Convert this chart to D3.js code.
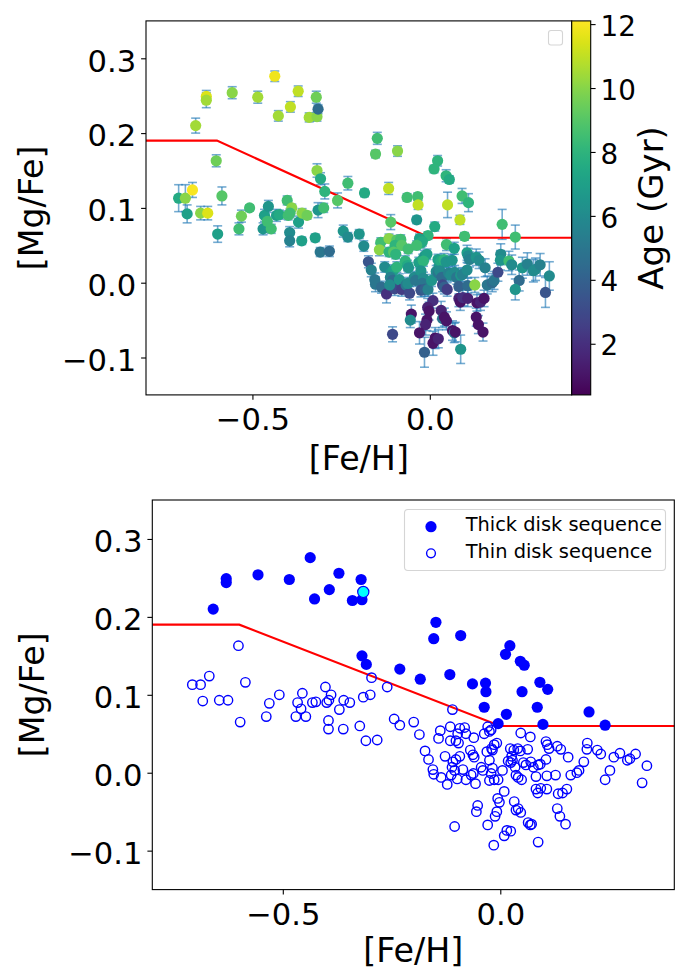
<!DOCTYPE html>
<html>
<head>
<meta charset="utf-8">
<script src="https://cdn.jsdelivr.net/npm/d3@7"></script>
<style>
  body { margin: 0; background: #fff; }
  svg { display: block; }
  text { font-family: "DejaVu Sans", sans-serif; fill: #000; }
</style>
</head>
<body>
<svg id="chart" width="687" height="971"></svg>
<script>
// ---- Star sample: [Fe/H], [Mg/Fe], age (Gyr) and [Mg/Fe] uncertainty ----
const feh = [
  // high-alpha stars
  -0.660,-0.630,-0.630,-0.557,-0.485,-0.437,-0.427,-0.393,-0.371,-0.340,
  -0.320,-0.318,-0.315,-0.318,-0.308,-0.231,-0.184,-0.148,-0.153,-0.091,
  -0.116,-0.064,-0.034,-0.033,0.022,0.012,0.046,0.055,0.050,0.091,
  0.109,-0.037,0.014,-0.005,0.085,0.098,0.204,0.241,
  // metal-poor low-alpha stars
  -0.602,-0.708,-0.689,-0.669,-0.586,-0.684,-0.646,-0.626,-0.598,-0.538,
  -0.531,-0.508,-0.470,-0.447,-0.466,-0.458,-0.455,-0.432,-0.424,-0.402,
  -0.389,-0.399,-0.394,-0.370,-0.360,-0.346,-0.395,-0.395,-0.361,-0.323,
  -0.309,-0.283,-0.315,-0.299,-0.260,-0.296,-0.244,-0.231,-0.199,
  // solar-metallicity low-alpha stars
  -0.110,-0.186,-0.138,-0.142,-0.115,-0.093,-0.082,-0.098,-0.079,-0.061,
  -0.115,-0.102,-0.096,-0.173,-0.165,-0.127,-0.155,-0.153,-0.136,-0.122,
  -0.109,-0.102,-0.093,-0.111,-0.105,-0.099,-0.113,-0.086,-0.079,-0.069,
  -0.063,-0.060,-0.067,-0.057,-0.062,-0.044,-0.040,-0.029,-0.025,-0.021,
  -0.037,-0.031,-0.020,-0.014,-0.008,-0.018,-0.025,-0.018,-0.021,-0.025,
  -0.014,-0.005,0.005,0.009,-0.006,-0.002,-0.008,-0.012,-0.029,-0.052,
  -0.055,-0.105,-0.015,0.009,0.015,0.024,0.026,0.023,0.031,0.040,
  0.046,0.018,0.024,0.028,0.034,0.036,0.041,0.049,0.053,0.059,
  0.063,0.047,0.069,0.070,0.076,0.082,0.087,0.092,0.105,0.105,
  0.108,0.112,0.131,0.139,0.156,0.107,0.127,0.082,0.086,0.093,
  0.107,0.133,0.143,0.153,0.032,0.036,0.041,0.047,0.064,0.069,
  0.072,0.087,0.131,0.137,0.150,0.162,0.176,0.181,0.192,0.200,
  0.199,0.223,0.231,0.252,0.241,0.261,0.275,0.292,0.298,0.311,
  0.337,0.326
];
const mgfe = [
  0.210,0.249,0.244,0.254,0.248,0.276,0.223,0.235,0.256,0.221,
  0.248,0.222,0.232,0.150,0.139,0.133,0.120,0.193,0.172,0.176,
  0.126,0.114,0.115,0.104,0.163,0.152,0.143,0.138,0.104,0.116,
  0.107,0.084,0.075,0.063,0.084,0.062,0.078,0.061,

  0.163,0.113,0.113,0.124,0.116,0.092,0.093,0.093,0.065,0.072,
  0.089,0.100,0.072,0.072,0.090,0.082,0.102,0.090,0.091,0.110,
  0.100,0.090,0.093,0.081,0.093,0.090,0.067,0.056,0.056,0.060,
  0.041,0.042,0.097,0.100,0.110,0.122,0.069,0.061,0.065,

  0.081,0.049,0.054,0.044,0.059,0.057,0.058,0.050,0.050,0.045,
  0.041,0.041,0.038,0.028,0.017,0.021,0.004,-0.002,-0.006,-0.015,
  0.014,0.017,0.021,0.007,0.003,-0.008,-0.003,0.004,-0.009,0.029,
  0.023,0.020,-0.003,-0.014,-0.001,0.007,0.003,0.059,0.053,0.055,
  0.050,0.027,0.031,0.036,0.038,0.029,0.016,0.006,-0.001,-0.010,
  -0.009,-0.009,0.003,-0.024,-0.033,-0.038,-0.050,-0.056,-0.067,-0.042,
  -0.050,-0.069,-0.093,-0.081,-0.074,-0.075,0.021,0.031,0.029,0.031,
  0.028,0.015,0.013,0.016,0.007,-0.003,-0.006,-0.009,0.013,0.010,
  0.030,0.051,0.046,0.014,0.007,-0.005,0.010,0.011,0.017,0.040,
  0.036,0.031,0.034,0.030,0.020,-0.004,-0.003,-0.021,-0.026,-0.020,
  -0.021,-0.027,-0.026,-0.021,-0.037,-0.048,-0.046,-0.051,-0.064,-0.067,
  -0.066,-0.089,-0.046,-0.056,-0.066,-0.003,0.000,0.003,0.014,0.038,
  0.030,0.029,0.024,0.003,-0.009,0.020,0.025,0.016,0.018,0.024,
  0.009,-0.013
];
const age = [
  10.5,11.5,10.5,10.0,10.5,11.8,10.5,11.0,11.0,10.5,
  9.5,10.0,4.5,10.0,7.5,8.5,7.5,8.5,9.0,10.0,
  11.0,8.5,8.5,11.0,8.0,8.0,8.0,7.5,11.0,8.5,
  8.0,6.5,7.5,8.0,11.0,8.5,8.5,8.5,

  9.5,7.5,10.0,12.0,9.0,7.0,10.0,11.5,7.0,8.5,
  9.5,8.5,6.5,8.5,7.0,8.5,6.5,7.0,7.5,8.5,
  10.0,8.5,8.5,7.0,10.0,9.5,6.0,5.5,7.0,7.0,
  5.0,4.5,6.5,8.5,9.0,8.0,6.5,6.0,6.5,

  9.0,6.0,8.5,10.0,10.0,9.0,8.5,8.0,9.0,8.5,
  8.0,9.0,8.0,3.5,5.5,6.0,5.0,5.0,4.5,2.0,
  6.5,7.0,8.0,5.5,4.5,3.0,6.0,6.5,2.5,8.0,
  7.5,6.5,5.0,3.0,6.0,6.0,5.0,7.0,8.0,7.5,
  8.5,7.0,7.5,6.5,7.0,8.0,6.5,6.0,5.0,3.5,
  4.0,5.5,6.5,2.0,1.5,1.0,1.0,1.5,1.0,1.0,
  6.0,3.0,4.0,1.0,1.0,1.5,6.5,7.0,7.5,8.0,
  6.5,6.0,5.0,6.0,4.5,3.0,4.0,2.5,5.5,6.0,
  6.5,8.5,7.0,6.0,5.0,4.0,6.5,5.5,6.0,7.0,
  6.0,5.5,6.5,6.0,5.5,4.5,10.0,1.5,1.0,2.0,
  1.5,1.0,1.5,1.0,1.5,5.0,1.0,1.0,1.0,5.0,
  1.0,6.5,1.0,1.0,1.0,5.0,4.5,5.0,3.0,6.0,
  6.5,8.5,6.0,4.5,6.5,6.5,5.5,6.0,6.0,5.5,
  6.0,3.5
];
const mgfeErr = [
  0.010,0.008,0.010,0.008,0.008,0.007,0.007,0.007,0.007,0.006,
  0.008,0.006,0.006,0.009,0.008,0.009,0.005,0.008,0.005,0.007,
  0.008,0.005,0.005,0.006,0.007,0.005,0.008,0.005,0.017,0.010,
  0.012,0.005,0.006,0.005,0.006,0.005,0.020,0.016,

  0.008,0.018,0.018,0.010,0.012,0.012,0.009,0.009,0.011,0.008,
  0.008,0.004,0.008,0.006,0.008,0.006,0.008,0.008,0.006,0.006,
  0.005,0.006,0.006,0.008,0.006,0.005,0.008,0.008,0.005,0.005,
  0.006,0.007,0.010,0.006,0.010,0.010,0.008,0.006,0.006,

  0.010,0.007,0.006,0.008,0.006,0.006,0.006,0.006,0.006,0.006,
  0.006,0.006,0.006,0.008,0.009,0.007,0.009,0.010,0.008,0.012,
  0.008,0.007,0.007,0.008,0.008,0.009,0.008,0.008,0.009,0.007,
  0.007,0.007,0.008,0.009,0.008,0.008,0.008,0.006,0.006,0.006,
  0.006,0.007,0.007,0.007,0.007,0.007,0.008,0.008,0.008,0.009,
  0.009,0.009,0.008,0.010,0.012,0.012,0.014,0.014,0.015,0.012,
  0.010,0.010,0.020,0.016,0.014,0.012,0.007,0.007,0.007,0.008,
  0.008,0.008,0.008,0.008,0.008,0.009,0.009,0.009,0.008,0.008,
  0.008,0.008,0.008,0.009,0.009,0.010,0.009,0.009,0.010,0.010,
  0.010,0.010,0.011,0.011,0.012,0.010,0.010,0.011,0.011,0.011,
  0.011,0.011,0.011,0.011,0.012,0.012,0.012,0.012,0.013,0.013,
  0.013,0.019,0.012,0.012,0.012,0.012,0.012,0.012,0.012,0.014,
  0.013,0.013,0.013,0.014,0.014,0.014,0.015,0.015,0.015,0.015,
  0.019,0.020
];
// star shown in cyan in the lower panel
const highlightIndex = 12;

// thick/thin dividing line
const boundaryFeh  = [-0.8, -0.6, 0.0, 0.4];
const boundaryMgfe = [0.19, 0.19, 0.06, 0.06];

const xTicks = [-0.5, 0.0];
const yTicks = [-0.1, 0.0, 0.1, 0.2, 0.3];
const ageTicks = [2, 4, 6, 8, 10, 12];
const xDomain = [-0.8, 0.4];
const yDomain = [-0.15, 0.35];
const ageDomain = [0.4, 12.1];
const legendLabels = ["Thick disk sequence", "Thin disk sequence"];

// ---------------------------------------------------------------
const svg = d3.select("#chart");
const stars = feh.map((f, i) => ({ feh: f, mgfe: mgfe[i], age: age[i], err: mgfeErr[i], i }));
const boundaryAt = d3.scaleLinear().domain(boundaryFeh).range(boundaryMgfe);
stars.forEach(s => { s.thick = s.mgfe > boundaryAt(s.feh); });

const TICK_FS = 30.6, LABEL_FS = 33.3;
const fmt = d3.format(".1f");

function frame(box) {
  const x = d3.scaleLinear().domain(xDomain).range([box.x0, box.x1]);
  const y = d3.scaleLinear().domain(yDomain).range([box.y1, box.y0]);
  return { x, y };
}

function axes(g, box, x, y) {
  const xa = g.append("g").attr("transform", `translate(0,${box.y1})`)
    .call(d3.axisBottom(x).tickValues(xTicks).tickFormat(fmt).tickSize(4.9).tickPadding(8.4));
  const ya = g.append("g").attr("transform", `translate(${box.x0},0)`)
    .call(d3.axisLeft(y).tickValues(yTicks).tickFormat(fmt).tickSize(4.9).tickPadding(4.9));
  [xa, ya].forEach(a => {
    a.select(".domain").remove();
    a.selectAll(".tick line").attr("stroke", "#000").attr("stroke-width", 1.1);
    a.selectAll(".tick text").attr("font-size", TICK_FS).attr("font-family", "DejaVu Sans").attr("fill", "#000");
  });
  ya.selectAll(".tick text").attr("dy", "0.42em");
  g.append("rect").attr("x", box.x0).attr("y", box.y0)
    .attr("width", box.x1 - box.x0).attr("height", box.y1 - box.y0)
    .attr("fill", "none").attr("stroke", "#000").attr("stroke-width", 1.1);
  g.append("text").attr("x", (box.x0 + box.x1) / 2).attr("y", box.y1 + box.xLabelDy)
    .attr("text-anchor", "middle").attr("font-size", LABEL_FS).text("[Fe/H]");
  g.append("text").attr("transform", `translate(${box.labelX},${(box.y0 + box.y1) / 2}) rotate(-90)`)
    .attr("text-anchor", "middle").attr("font-size", LABEL_FS).text("[Mg/Fe]");
}

function boundary(g, x, y) {
  const line = d3.line().x(d => x(d[0])).y(d => y(d[1]));
  g.append("path").datum(d3.zip(boundaryFeh, boundaryMgfe))
    .attr("d", line).attr("fill", "none").attr("stroke", "red").attr("stroke-width", 2.1);
}

// ---------------- upper panel: coloured by age ----------------
const boxA = { x0: 146, x1: 571.7, y0: 20.9, y1: 394.9, labelX: 43, xLabelDy: 75 };
const A = frame(boxA);
const gA = svg.append("g");
const color = d3.scaleSequential(d3.interpolateViridis).domain(ageDomain);

const errG = gA.append("g").attr("stroke", "#1f77b4").attr("stroke-opacity", 0.62).attr("stroke-width", 1.6);
stars.forEach(s => {
  const cx = A.x(s.feh), y1 = A.y(s.mgfe - s.err), y2 = A.y(s.mgfe + s.err);
  errG.append("line").attr("x1", cx).attr("x2", cx).attr("y1", y1).attr("y2", y2);
  errG.append("line").attr("x1", cx - 4.5).attr("x2", cx + 4.5).attr("y1", y1).attr("y2", y1);
  errG.append("line").attr("x1", cx - 4.5).attr("x2", cx + 4.5).attr("y1", y2).attr("y2", y2);
});
boundary(gA, A.x, A.y);
gA.append("g").selectAll("circle").data(stars).join("circle")
  .attr("cx", d => A.x(d.feh)).attr("cy", d => A.y(d.mgfe)).attr("r", 5.6)
  .attr("fill", d => color(d.age));
axes(gA, boxA, A.x, A.y);

// empty legend frame
gA.append("rect").attr("x", 548.5).attr("y", 30.5).attr("width", 14).attr("height", 14.5)
  .attr("rx", 2.5).attr("fill", "#fff").attr("stroke", "#d5d5d5").attr("stroke-width", 1.1);

// colour bar
const cb = { x: 571.7, w: 19, y0: boxA.y0, y1: boxA.y1 };
const grad = svg.append("defs").append("linearGradient").attr("id", "viridisBar")
  .attr("x1", 0).attr("y1", 1).attr("x2", 0).attr("y2", 0);
d3.range(0, 1.0001, 0.02).forEach(t => {
  grad.append("stop").attr("offset", t).attr("stop-color", d3.interpolateViridis(t));
});
svg.append("rect").attr("x", cb.x).attr("y", cb.y0).attr("width", cb.w).attr("height", cb.y1 - cb.y0)
  .attr("fill", "url(#viridisBar)").attr("stroke", "#000").attr("stroke-width", 1.1);
const ageScale = d3.scaleLinear().domain(ageDomain).range([cb.y1, cb.y0]);
const cbAxis = svg.append("g").attr("transform", `translate(${cb.x + cb.w},0)`)
  .call(d3.axisRight(ageScale).tickValues(ageTicks).tickFormat(d3.format("d")).tickSize(4.9).tickPadding(4.9));
cbAxis.select(".domain").remove();
cbAxis.selectAll(".tick line").attr("stroke", "#000").attr("stroke-width", 1.1);
cbAxis.selectAll(".tick text").attr("font-size", 27.8).attr("font-family", "DejaVu Sans").attr("fill", "#000").attr("dy", "0.4em");
svg.append("text").attr("transform", `translate(663,${(cb.y0 + cb.y1) / 2}) rotate(-90)`)
  .attr("text-anchor", "middle").attr("font-size", 34).text("Age (Gyr)");

// ---------------- lower panel: thick / thin sequences ----------------
const boxB = { x0: 152.3, x1: 674.3, y0: 500, y1: 889.6, labelX: 44, xLabelDy: 72 };
const B = frame(boxB);
const gB = svg.append("g");
boundary(gB, B.x, B.y);
gB.append("g").selectAll("circle").data(stars.filter(d => !d.thick)).join("circle")
  .attr("cx", d => B.x(d.feh)).attr("cy", d => B.y(d.mgfe)).attr("r", 4.7)
  .attr("fill", "none").attr("stroke", "blue").attr("stroke-width", 1.4);
gB.append("g").selectAll("circle").data(stars.filter(d => d.thick && d.i !== highlightIndex)).join("circle")
  .attr("cx", d => B.x(d.feh)).attr("cy", d => B.y(d.mgfe)).attr("r", 5.6)
  .attr("fill", "blue");
gB.append("circle").datum(stars[highlightIndex])
  .attr("cx", d => B.x(d.feh)).attr("cy", d => B.y(d.mgfe)).attr("r", 5.6)
  .attr("fill", "cyan").attr("stroke", "blue").attr("stroke-width", 1.2);
axes(gB, boxB, B.x, B.y);

// legend
const lg = gB.append("g");
lg.append("rect").attr("x", 404.5).attr("y", 509.5).attr("width", 261).attr("height", 61)
  .attr("rx", 3.5).attr("fill", "#fff").attr("fill-opacity", 0.8)
  .attr("stroke", "#d5d5d5").attr("stroke-width", 1.1);
lg.append("circle").attr("cx", 431).attr("cy", 526.7).attr("r", 5.6).attr("fill", "blue");
lg.append("circle").attr("cx", 431).attr("cy", 553.3).attr("r", 4.4)
  .attr("fill", "none").attr("stroke", "blue").attr("stroke-width", 1.4);
lg.selectAll("text.lab").data(legendLabels).join("text").attr("class", "lab")
  .attr("x", 465.7).attr("y", (d, i) => 531 + i * 26.7)
  .attr("font-size", 19.4).text(d => d);
</script>
</body>
</html>
